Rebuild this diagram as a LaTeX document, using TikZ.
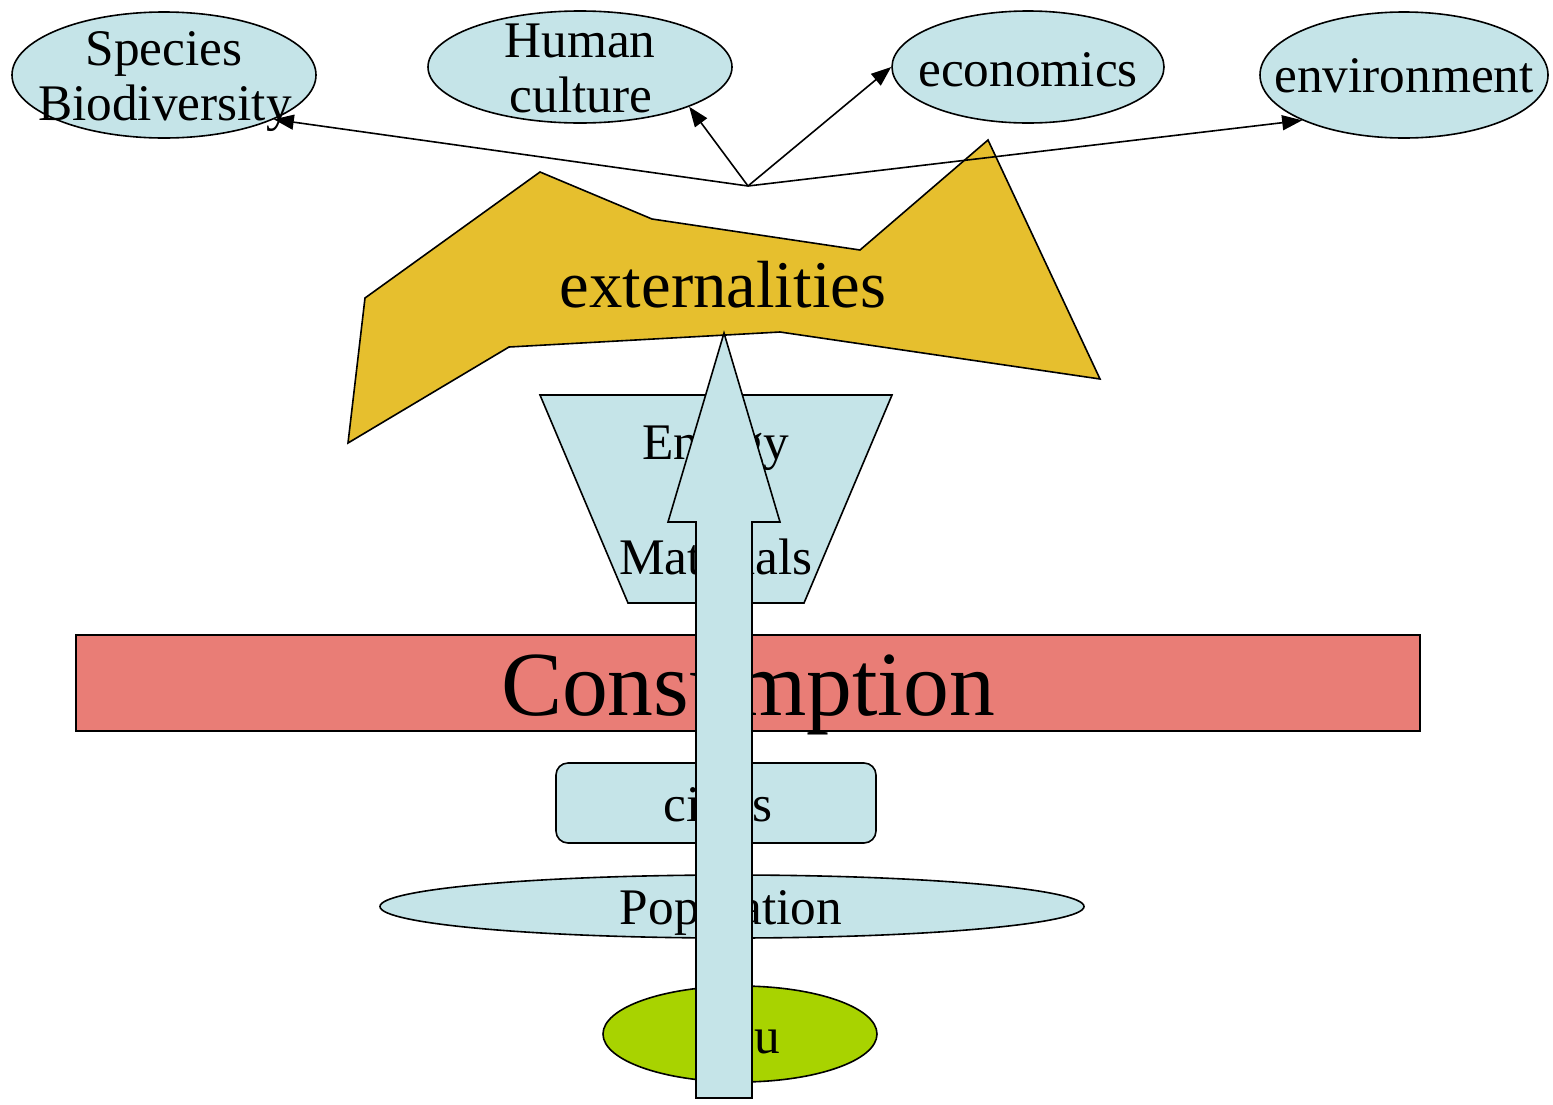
\documentclass[tikz,border=0pt]{standalone}
\usepackage{fontspec}
\setmainfont{Liberation Serif}
\usetikzlibrary{shapes.geometric,arrows.meta}
\definecolor{lblue}{HTML}{C5E4E8}
\definecolor{gold}{HTML}{E6BF2E}
\definecolor{salmon}{HTML}{E97D76}
\definecolor{lime}{HTML}{A8D300}
\tikzset{
 shp/.style={draw=black, line width=1.6bp},
 oval/.style={shp, ellipse, fill=lblue, inner sep=0pt},
 lbl/.style={anchor=base, inner sep=0pt, font=\fontsize{51.5}{56}\selectfont},
 link/.style={line width=1.6bp, -{Triangle[length=20bp,width=15bp]}},
}
\begin{document}
\begin{tikzpicture}[x=1bp,y=-1bp]
\useasboundingbox (0,0) rectangle (1553,1104);
% externalities
\path[shp, fill=gold] (365,298) -- (540,172) -- (652,219) -- (860,250) -- (988,140) -- (1100,379) -- (780,332) -- (509,347) -- (348,443) -- cycle;
\node[lbl, font=\fontsize{67}{70}\selectfont] (ext) at (723,307) {externalities};
% top ellipses
\node[oval, minimum width=304bp, minimum height=126bp] (sp) at (164,75) {};
\node[lbl] (spa) at (164,65) {Species};
\node[lbl] (spb) at (165,120) {Biodiversity};
\node[oval, minimum width=304bp, minimum height=112bp] (hc) at (580,67) {};
\node[lbl] (hca) at (580,57) {Human};
\node[lbl] (hcb) at (581,112) {culture};
\node[oval, minimum width=272bp, minimum height=112bp] (eco) at (1028,67) {};
\node[lbl] (ecot) at (1028,86) {economics};
\node[oval, minimum width=288bp, minimum height=126bp] (env) at (1404,75) {};
\node[lbl] (envt) at (1404,92) {environment};
% connectors
\coordinate (hub) at (748,186);
\draw[link] (hub) -- (sp.-22.6);
\draw[link] (hub) -- (hc.-20.8);
\draw[link] (hub) -- (eco.west);
\draw[link] (hub) -- (env.204);
% energy / materials trapezoid
\path[shp, fill=lblue] (540,395) -- (892,395) -- (804,603) -- (628,603) -- cycle;
\node[lbl] (en) at (716,459) {Energy};
\node[lbl] (mat) at (716,574) {Materials};
% consumption
\node[shp, fill=salmon, minimum width=1344bp, minimum height=96bp, inner sep=0pt] (cons) at (748,683) {};
\node[lbl, font=\fontsize{92}{96}\selectfont] (const) at (748,715) {Consumption};
% cities
\node[shp, fill=lblue, rounded corners=12bp, minimum width=320bp, minimum height=80bp, inner sep=0pt] (cit) at (716,803) {};
\node[lbl] (citt) at (718,821) {cities};
% population
\node[oval, minimum width=704bp, minimum height=63bp] (pop) at (732,906.5) {};
\node[lbl] (popt) at (731,924) {Population};
% you
\node[shp, ellipse, fill=lime, inner sep=0pt, minimum width=274bp, minimum height=96bp] (you) at (740,1034) {};
\node[lbl] (yout) at (739,1053) {You};
% big arrow
\path[shp, fill=lblue] (696,1098) -- (696,522) -- (668,522) -- (724,333) -- (780,522) -- (752,522) -- (752,1098) -- cycle;
\end{tikzpicture}
\end{document}
